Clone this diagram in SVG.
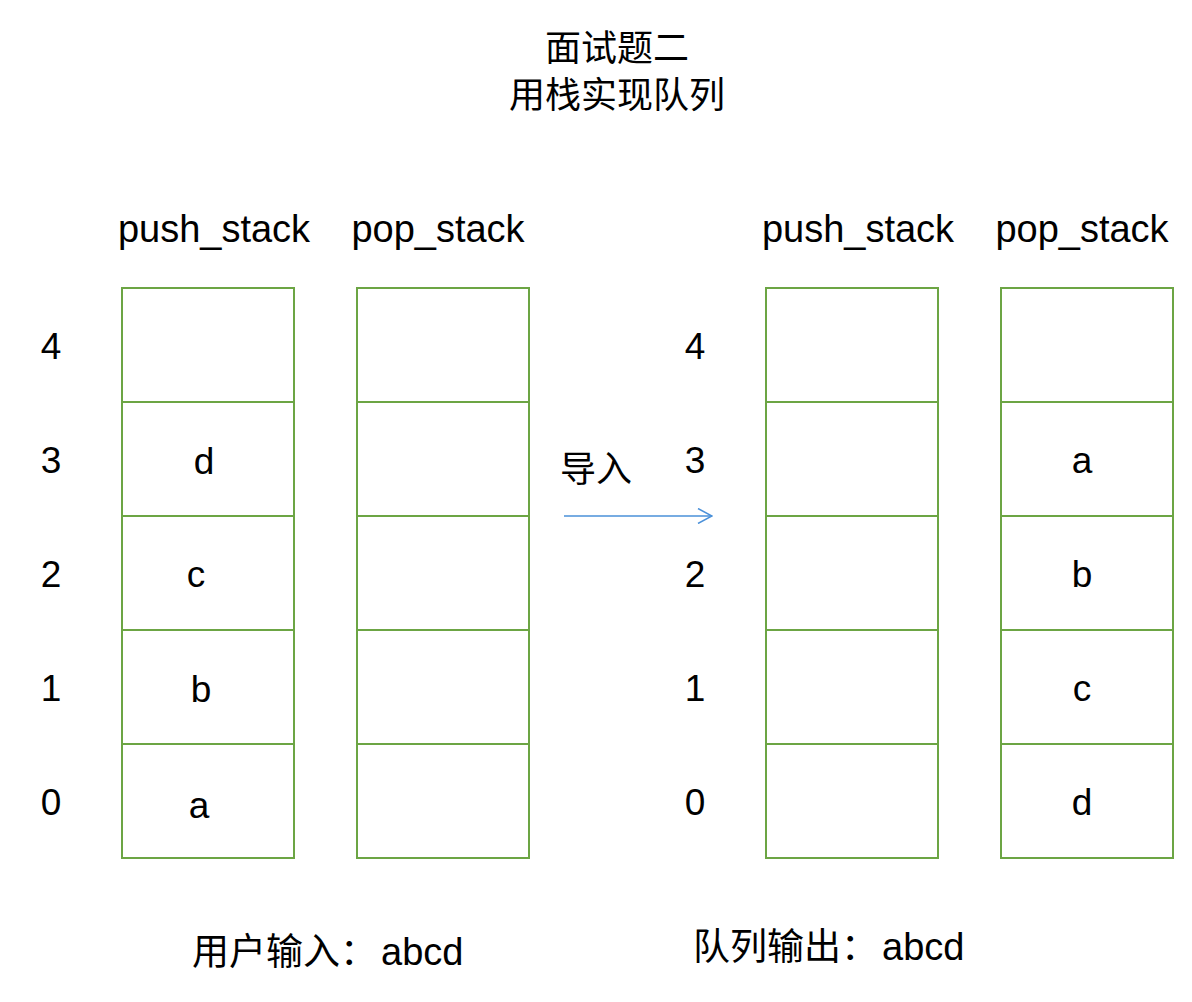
<svg xmlns="http://www.w3.org/2000/svg" width="1192" height="1002" viewBox="0 0 1192 1002">
<style>
.bg{fill:#ffffff}
.cell{fill:#ffffff;stroke:#6ca544;stroke-width:2}
.lat{font-family:"Liberation Sans","Noto Sans CJK SC",sans-serif;font-size:37px;fill:#000000;text-anchor:middle}
.hdr{font-family:"Liberation Sans","Noto Sans CJK SC",sans-serif;font-size:38px;fill:#000000;text-anchor:middle}
.cjk{font-family:"Noto Sans CJK SC",sans-serif;font-size:36px;fill:#000000;text-anchor:middle}
.cjl{font-family:"Noto Sans CJK SC",sans-serif;font-size:37px;fill:#000000}
.abc{font-family:"Liberation Sans",sans-serif;font-size:38px;fill:#000000}
.conn{stroke:#4a90d9;stroke-width:1.5;fill:none}
</style>
<defs>
<marker id="arrow" viewBox="0 0 16 16" refX="15" refY="8" markerWidth="16" markerHeight="16" markerUnits="userSpaceOnUse" orient="auto">
<path d="M1,0.5 L15,8 L1,15.5" fill="none" stroke="#4a90d9" stroke-width="1.5"/>
</marker>
</defs>
<rect class="bg" x="0" y="0" width="1192" height="1002"/>

<g id="title">
<text class="cjk" x="617" y="61">面试题二</text>
<text class="cjk" x="617" y="108">用栈实现队列</text>
</g>

<g id="left-push-stack">
<text class="hdr" x="214" y="242">push_stack</text>
<rect class="cell" x="122" y="288" width="172" height="114"/>
<rect class="cell" x="122" y="402" width="172" height="114"/>
<rect class="cell" x="122" y="516" width="172" height="114"/>
<rect class="cell" x="122" y="630" width="172" height="114"/>
<rect class="cell" x="122" y="744" width="172" height="114"/>
<text class="lat" x="204" y="474">d</text>
<text class="lat" x="196" y="587">c</text>
<text class="lat" x="201" y="702">b</text>
<text class="lat" x="199" y="818">a</text>
</g>

<g id="left-pop-stack">
<text class="hdr" x="438" y="242">pop_stack</text>
<rect class="cell" x="357" y="288" width="172" height="114"/>
<rect class="cell" x="357" y="402" width="172" height="114"/>
<rect class="cell" x="357" y="516" width="172" height="114"/>
<rect class="cell" x="357" y="630" width="172" height="114"/>
<rect class="cell" x="357" y="744" width="172" height="114"/>
</g>

<g id="left-index">
<text class="lat" x="51" y="359">4</text>
<text class="lat" x="51" y="473">3</text>
<text class="lat" x="51" y="587">2</text>
<text class="lat" x="51" y="701">1</text>
<text class="lat" x="51" y="815">0</text>
</g>

<g id="right-index">
<text class="lat" x="695" y="359">4</text>
<text class="lat" x="695" y="473">3</text>
<text class="lat" x="695" y="587">2</text>
<text class="lat" x="695" y="701">1</text>
<text class="lat" x="695" y="815">0</text>
</g>

<g id="right-push-stack">
<text class="hdr" x="858" y="242">push_stack</text>
<rect class="cell" x="766" y="288" width="172" height="114"/>
<rect class="cell" x="766" y="402" width="172" height="114"/>
<rect class="cell" x="766" y="516" width="172" height="114"/>
<rect class="cell" x="766" y="630" width="172" height="114"/>
<rect class="cell" x="766" y="744" width="172" height="114"/>
</g>

<g id="right-pop-stack">
<text class="hdr" x="1082" y="242">pop_stack</text>
<rect class="cell" x="1001" y="288" width="172" height="114"/>
<rect class="cell" x="1001" y="402" width="172" height="114"/>
<rect class="cell" x="1001" y="516" width="172" height="114"/>
<rect class="cell" x="1001" y="630" width="172" height="114"/>
<rect class="cell" x="1001" y="744" width="172" height="114"/>
<text class="lat" x="1082" y="473">a</text>
<text class="lat" x="1082" y="587">b</text>
<text class="lat" x="1082" y="701">c</text>
<text class="lat" x="1082" y="815">d</text>
</g>

<g id="connectors">
<line class="conn" x1="564" y1="516" x2="712" y2="516" marker-end="url(#arrow)"/>
<text class="cjk" x="596" y="482">导入</text>
</g>

<g id="user-input">
<text x="192" y="965"><tspan class="cjl">用户输入：</tspan><tspan class="abc" x="381">abcd</tspan></text>
</g>

<g id="queue-output">
<text x="693" y="960"><tspan class="cjl">队列输出：</tspan><tspan class="abc" x="882">abcd</tspan></text>
</g>
</svg>
